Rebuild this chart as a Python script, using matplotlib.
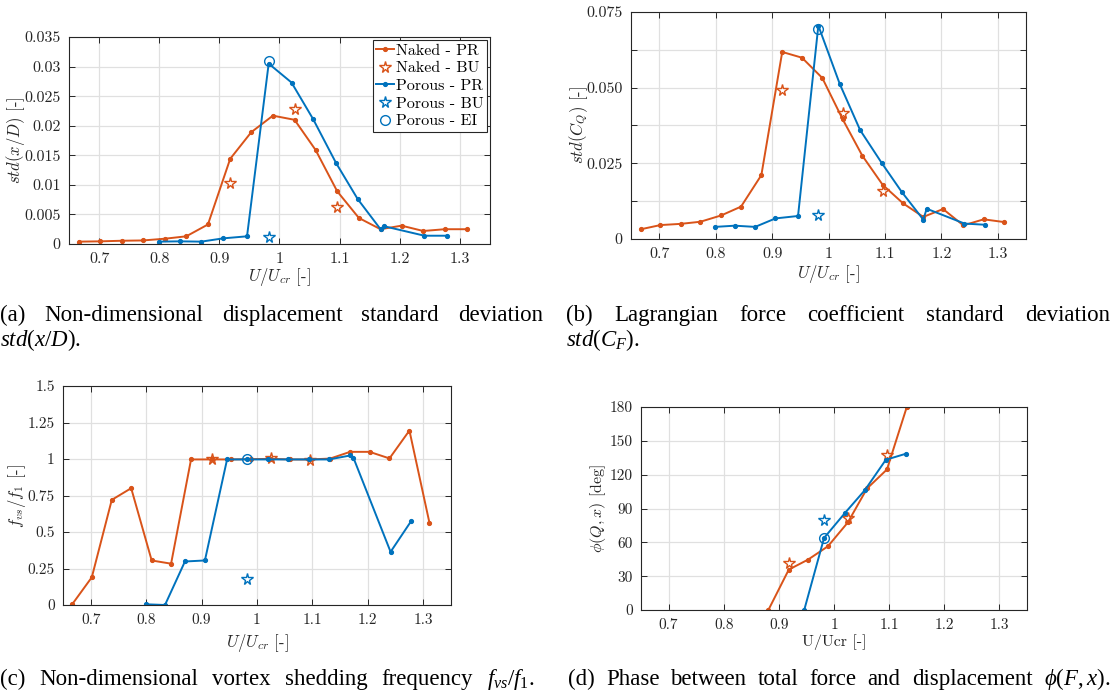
import matplotlib
matplotlib.use('Agg')
import matplotlib.pyplot as plt

# ---------------- data ----------------
x_naked = [0.667, 0.702, 0.738, 0.773, 0.810, 0.845, 0.881, 0.918, 0.953, 0.989,
           1.025, 1.060, 1.096, 1.132, 1.168, 1.203, 1.239, 1.275, 1.311]
x_porous = [0.799, 0.834, 0.870, 0.906, 0.946, 0.982, 1.020, 1.056, 1.094, 1.130,
            1.168, 1.174, 1.241, 1.278]

stdx_naked = [0.0004, 0.00045, 0.00055, 0.0006, 0.0009, 0.0013, 0.0033, 0.0144, 0.0189, 0.0217,
              0.0210, 0.0159, 0.0089, 0.0044, 0.0025, 0.0031, 0.0022, 0.0025, 0.0025]
stdx_porous = [0.0004, 0.00045, 0.0004, 0.00095, 0.0013, 0.0305, 0.0273, 0.0211, 0.0137, 0.0076,
               0.0025, 0.0030, 0.0014, 0.0014]

cq_naked = [0.0032, 0.0046, 0.0050, 0.0057, 0.0078, 0.0107, 0.0211, 0.0618, 0.0599, 0.0532,
            0.0396, 0.0275, 0.0179, 0.0118, 0.0073, 0.0099, 0.0045, 0.0065, 0.0056]
cq_porous = [0.0040, 0.0044, 0.0040, 0.0068, 0.0076, 0.0705, 0.0512, 0.0360, 0.0252, 0.0155,
             0.0064, 0.0100, 0.0051, 0.0047]

fvs_naked = [0.007, 0.19, 0.72, 0.80, 0.305, 0.283, 0.997, 0.997, 0.997, 0.999,
             1.001, 0.997, 0.997, 1.003, 1.049, 1.049, 1.004, 1.195, 0.565]
fvs_porous = [0.005, 0.0, 0.298, 0.305, 0.997, 0.997, 0.997, 0.997, 0.997, 0.997,
              1.024, 1.008, 0.364, 0.574]

x_phase_naked = [0.881, 0.918, 0.953, 0.989, 1.025, 1.060, 1.096, 1.132]
phase_naked = [0.0, 35.8, 44.7, 56.5, 77.6, 107.8, 124.6, 180.0]
x_phase_porous = [0.946, 0.982, 1.020, 1.056, 1.094, 1.130]
phase_porous = [0.0, 63.9, 86.1, 106.3, 133.2, 138.5]

x_naked_bu = [0.918, 1.025, 1.096]
stdx_naked_bu = [0.0103, 0.0228, 0.0062]
cq_naked_bu = [0.0491, 0.0416, 0.0159]
fvs_naked_bu = [0.997, 1.005, 0.995]
phase_naked_bu = [41.4, 81.4, 137.4]

x_porous_bu = [0.982]
stdx_porous_bu = [0.0012]
cq_porous_bu = [0.0079]
fvs_porous_bu = [0.18]
phase_porous_bu = [80.2]

x_porous_ei = [0.982]
stdx_porous_ei = [0.0310]
cq_porous_ei = [0.0694]
fvs_porous_ei = [0.997]
phase_porous_ei = [63.4]

xticks = [0.7, 0.8, 0.9, 1.0, 1.1, 1.2, 1.3]
xtick_labels = ['0.7', '0.8', '0.9', '1', '1.1', '1.2', '1.3']

yticks_a = [0, 0.005, 0.01, 0.015, 0.02, 0.025, 0.03, 0.035]
ylabels_a = ['0', '0.005', '0.01', '0.015', '0.02', '0.025', '0.03', '0.035']
yticks_b = [0, 0.0125, 0.025, 0.0375, 0.05, 0.0625, 0.075]
ylabels_b = ['0', '', '0.025', '', '0.050', '', '0.075']
yticks_c = [0, 0.25, 0.5, 0.75, 1.0, 1.25, 1.5]
ylabels_c = ['0', '0.25', '0.5', '0.75', '1', '1.25', '1.5']
yticks_d = [0, 30, 60, 90, 120, 150, 180]
ylabels_d = ['0', '30', '60', '90', '120', '150', '180']

legend_labels = ['Naked - PR', 'Naked - BU', 'Porous - PR', 'Porous - BU', 'Porous - EI']

# ---------------- style ----------------
plt.rcParams['font.family'] = ['cmr10']
plt.rcParams['mathtext.fontset'] = 'cm'
plt.rcParams['mathtext.rm'] = 'Liberation Serif'
plt.rcParams['mathtext.it'] = 'Liberation Serif:italic'
plt.rcParams['mathtext.bf'] = 'Liberation Serif:bold'
plt.rcParams['axes.unicode_minus'] = False

ORANGE = '#D95319'
BLUE = '#0072BD'
AXC = '#262626'

W, H = 1119, 698
fig = plt.figure(figsize=(W / 100, H / 100), dpi=100)


def make_ax(l, t, r, b, yticks, ylabels, fs):
    ax = fig.add_axes([l / W, 1 - b / H, (r - l) / W, (b - t) / H])
    ax.set_xlim(0.65, 1.35)
    ax.set_xticks(xticks)
    ax.set_xticklabels(xtick_labels)
    ax.set_ylim(yticks[0], yticks[-1])
    ax.set_yticks(yticks)
    ax.set_yticklabels(ylabels)
    ax.grid(True, color='#e0e0e0', lw=0.9)
    ax.set_axisbelow(True)
    ax.tick_params(direction='in', top=True, right=True, length=4, width=0.7,
                   color=AXC, labelcolor=AXC, labelsize=fs, pad=6)
    for s in ax.spines.values():
        s.set_color(AXC)
        s.set_linewidth(0.8)
    return ax


def draw_series(ax, xn, yn, xp, yp, xnb, ynb, xpb, ypb, xpe, ype):
    h1, = ax.plot(xn, yn, '-', color=ORANGE, lw=1.4, marker='.', ms=5.5)
    h2, = ax.plot(xnb, ynb, ls='none', marker='*', ms=8.5, mfc='none', mec=ORANGE, mew=1.0)
    h3, = ax.plot(xp, yp, '-', color=BLUE, lw=1.4, marker='.', ms=5.5)
    h4, = ax.plot(xpb, ypb, ls='none', marker='*', ms=8.5, mfc='none', mec=BLUE, mew=1.0)
    h5, = ax.plot(xpe, ype, ls='none', marker='o', ms=7, mfc='none', mec=BLUE, mew=1.0)
    return [h1, h2, h3, h4, h5]


def set_labels(ax, xl, yl, xpos, ypos, fs=12):
    ax.set_xlabel(xl, fontsize=fs, color=AXC)
    ax.set_ylabel(yl, fontsize=fs, color=AXC)
    ax.xaxis.set_label_coords(0.5, xpos)
    ax.yaxis.set_label_coords(ypos, 0.5)
    ax.xaxis.label.set_va('center')
    ax.yaxis.label.set_va('center')


# (a)
ax_a = make_ax(69, 37, 490, 244, yticks_a, ylabels_a, 11.5)
hs = draw_series(ax_a, x_naked, stdx_naked, x_porous, stdx_porous,
                 x_naked_bu, stdx_naked_bu, x_porous_bu, stdx_porous_bu,
                 x_porous_ei, stdx_porous_ei)
set_labels(ax_a, r'$U/U_{cr}$ [-]', r'$std(x/D)$ [-]', -0.16, -0.127)
leg = ax_a.legend(hs, legend_labels, loc='upper right', fontsize=11.5, fancybox=False,
                  edgecolor=AXC, framealpha=1, borderpad=0.2, labelspacing=0.22,
                  handlelength=1.15, handletextpad=0.1, borderaxespad=0.2)
leg.get_frame().set_linewidth(0.8)

# (b)
ax_b = make_ax(631, 12, 1026, 239, yticks_b, ylabels_b, 11.5)
draw_series(ax_b, x_naked, cq_naked, x_porous, cq_porous,
            x_naked_bu, cq_naked_bu, x_porous_bu, cq_porous_bu,
            x_porous_ei, cq_porous_ei)
set_labels(ax_b, r'$U/U_{cr}$ [-]', r'$std(C_Q)$ [-]', -0.155, -0.132)

# (c)
ax_c = make_ax(63, 386, 451, 605, yticks_c, ylabels_c, 11)
draw_series(ax_c, x_naked, fvs_naked, x_porous, fvs_porous,
            x_naked_bu, fvs_naked_bu, x_porous_bu, fvs_porous_bu,
            x_porous_ei, fvs_porous_ei)
set_labels(ax_c, r'$U/U_{cr}$ [-]', r'$f_{vs}/f_1$ [-]', -0.172, -0.118)

# (d)
ax_d = make_ax(641, 407, 1027, 610, yticks_d, ylabels_d, 11)
draw_series(ax_d, x_phase_naked, phase_naked, x_phase_porous, phase_porous,
            x_naked_bu, phase_naked_bu, x_porous_bu, phase_porous_bu,
            x_porous_ei, phase_porous_ei)
set_labels(ax_d, 'U/Ucr [-]', r'$\phi(Q,x)$ [deg]', -0.16, -0.112, fs=11.5)

# ---------------- captions ----------------
renderer = fig.canvas.get_renderer()
CAP_FS = 16.5


def put_line(words, x0, x1, y, justify=True):
    ts = [fig.text(0, 1 - y / H, w, fontsize=CAP_FS, family='Liberation Serif',
                   va='baseline', ha='left', math_fontfamily='custom', color='black')
          for w in words]
    widths = [t.get_window_extent(renderer).width for t in ts]
    if justify and len(words) > 1:
        gap = ((x1 - x0) - sum(widths)) / (len(words) - 1)
    else:
        gap = CAP_FS * 0.25 * 100 / 72
    x = x0
    for t, w in zip(ts, widths):
        t.set_x(x / W)
        x += w + gap


put_line(['(a)', 'Non-dimensional', 'displacement', 'standard', 'deviation'], 0, 543, 321)
put_line([r'$std(x/D)$.'], 0, 543, 346, justify=False)
put_line(['(b)', 'Lagrangian', 'force', 'coefficient', 'standard', 'deviation'], 566, 1110, 321)
put_line([r'$std(C_F)$.'], 566, 1110, 346, justify=False)
put_line(['(c)', 'Non-dimensional', 'vortex', 'shedding', 'frequency', r'$f_{vs}/f_1$.'], 0, 535, 685)
put_line(['(d)', 'Phase', 'between', 'total', 'force', 'and', 'displacement', r'$\phi(F,x)$.'],
         568, 1110, 685)

fig.savefig('out.png', dpi=100)
